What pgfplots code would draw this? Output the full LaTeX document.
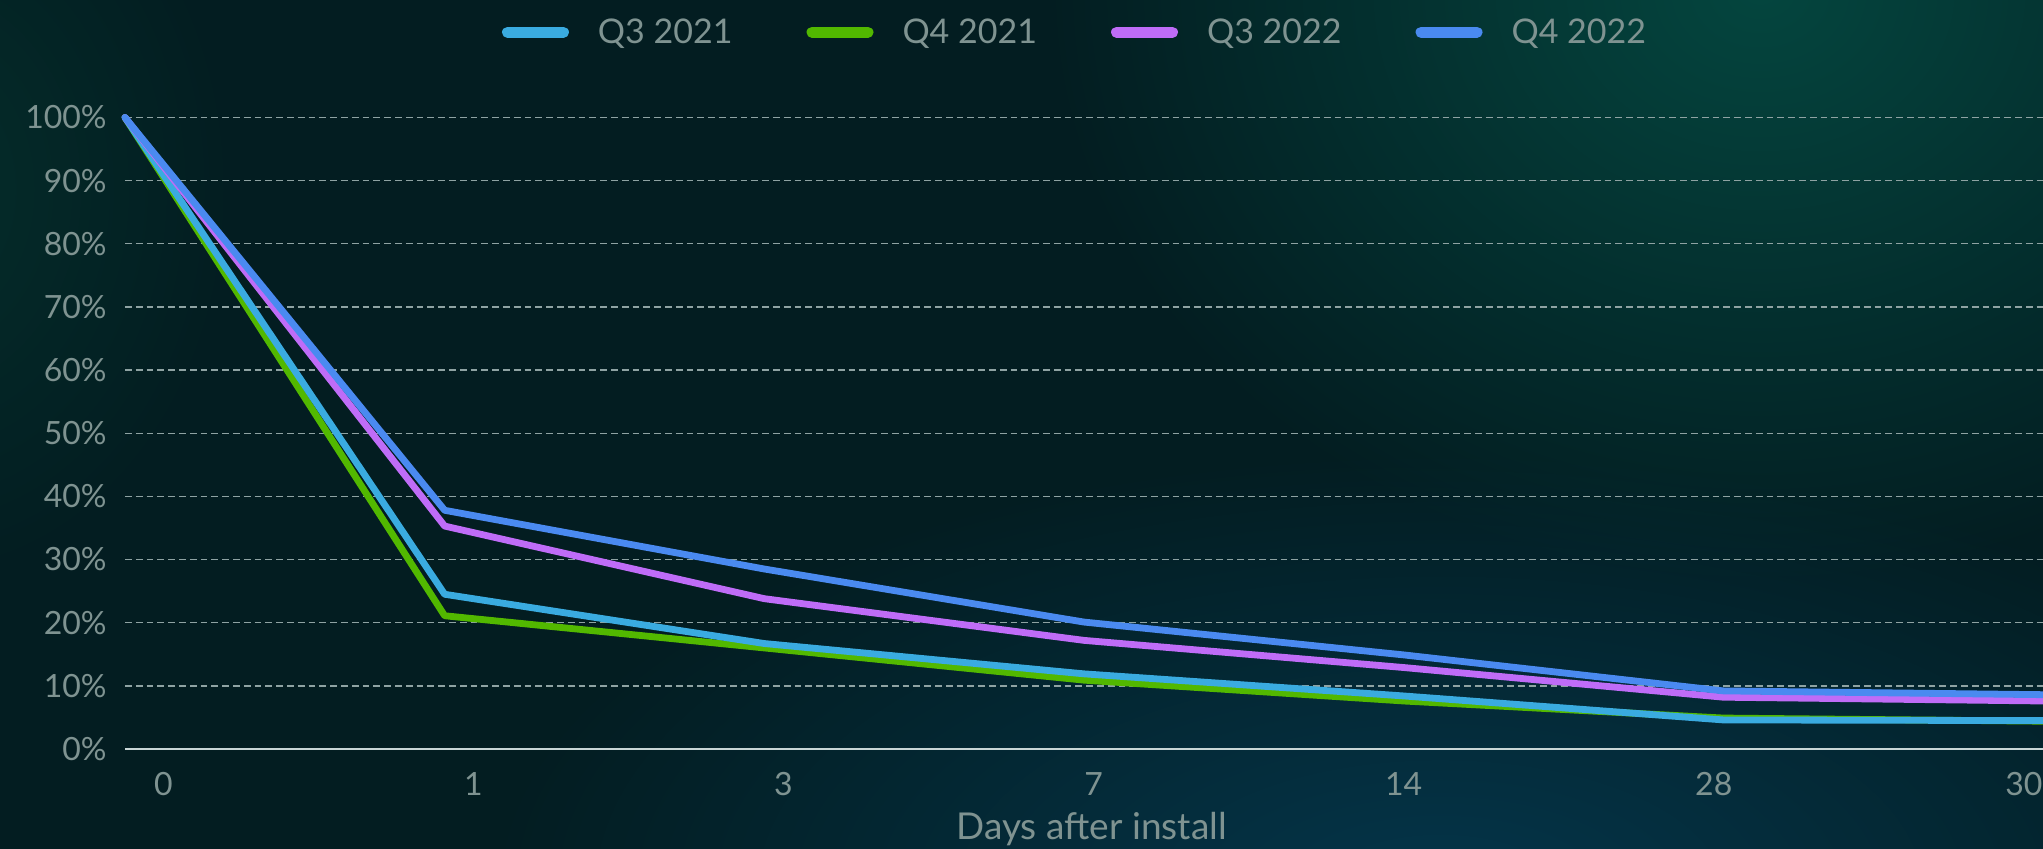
\documentclass[border=0pt]{standalone}
\usepackage{fontspec}
\setmainfont{Lato}
\usepackage{pgfplots}
\pgfplotsset{compat=1.18}
\usetikzlibrary{fadings}

\definecolor{bgbase}{HTML}{031D21}
\definecolor{glowteal}{HTML}{05463F}
\definecolor{glowblue}{HTML}{05354A}
\definecolor{glowleft}{HTML}{052E2B}
\definecolor{labelgray}{HTML}{7F9391}
\definecolor{gridgray}{HTML}{8FA3A3}
\definecolor{baseaxis}{HTML}{C9D6D6}
\definecolor{colA}{HTML}{3AABE0}
\definecolor{colB}{HTML}{52B800}
\definecolor{colC}{HTML}{BF6CF7}
\definecolor{colD}{HTML}{4A8AF0}

\tikzfading[name=softglow, inner color=transparent!0, outer color=transparent!100]

% retention by day index: 0=day 0, 1=day 1, 2=day 3, 3=day 7, 4=day 14, 5=day 28, 6=day 30
\pgfplotstableread{
x y
0 100
1 24.5
2 16.7
3 11.9
4 8.4
5 4.6
6 4.5
}\qthreeA
\pgfplotstableread{
x y
0 100
1 21.1
2 16.0
3 10.9
4 7.6
5 4.9
6 4.4
}\qfourA
\pgfplotstableread{
x y
0 100
1 35.3
2 23.8
3 17.2
4 12.9
5 8.2
6 7.6
}\qthreeB
\pgfplotstableread{
x y
0 100
1 37.8
2 28.5
3 20.1
4 14.9
5 9.2
6 8.6
}\qfourB

\newcommand{\chartfont}{\fontsize{16}{19}\selectfont}
\newcommand{\legendfont}{\fontsize{17}{20}\selectfont}
\newcommand{\titlefont}{\fontsize{18.5}{22}\selectfont}

\begin{document}
\begin{tikzpicture}
% backdrop
\fill[bgbase] (0,0) rectangle (1021.5pt,424.5pt);
\begin{scope}
\clip (0,0) rectangle (1021.5pt,424.5pt);
\fill[glowteal, path fading=softglow] (880pt,430pt) ellipse (360pt and 300pt);
\fill[glowblue, path fading=softglow] (720pt,-20pt) ellipse (480pt and 220pt);
\fill[glowleft, path fading=softglow] (-40pt,330pt) ellipse (160pt and 200pt);
\end{scope}

\begin{axis}[
  at={(62.5pt,50pt)}, anchor=south west,
  scale only axis, width=959pt, height=315.75pt,
  xmin=0, xmax=6, ymin=0, ymax=100,
  clip=false,
  axis line style={draw=none},
  major tick length=0pt,
  xtick={0.12,1.09,2.06,3.03,4.00,4.97,5.94},
  xticklabels={0,1,3,7,14,28,30},
  ytick={10,20,...,100},
  yticklabels={10\%,20\%,30\%,40\%,50\%,60\%,70\%,80\%,90\%,100\%},
  extra y ticks={0},
  extra y tick labels={0\%},
  extra y tick style={grid style={solid, draw=baseaxis, line width=1.25pt}},
  ymajorgrids,
  grid style={draw=gridgray, line width=0.7pt, dash pattern=on 3.4pt off 2pt},
  tick label style={font=\chartfont, text=labelgray},
  yticklabel style={anchor=east, inner sep=0pt, xshift=-9pt},
  xticklabel style={anchor=north, inner sep=0pt, yshift=-11.5pt},
  xlabel={Days after install},
  xlabel style={at={(axis description cs:0.504,0)}, anchor=base, yshift=-45.5pt, font=\titlefont, text=labelgray},
  legend columns=4,
  legend image code/.code={\draw[#1, line width=5.5pt, line cap=round] (0pt,0pt) -- (28pt,0pt);},
  legend style={at={(0.4948,1.135)}, anchor=center, draw=none, fill=none,
    font=\legendfont, text=labelgray,
    /tikz/every odd column/.append style={column sep=14.5pt},
    /tikz/every even column/.append style={column sep=37pt},
    nodes={inner sep=0pt}},
]
\addlegendimage{colA}\addlegendentry{Q3 2021}
\addlegendimage{colB}\addlegendentry{Q4 2021}
\addlegendimage{colC}\addlegendentry{Q3 2022}
\addlegendimage{colD}\addlegendentry{Q4 2022}

\addplot[forget plot, colB, line width=3.4pt, line cap=round, line join=round] table {\qfourA};
\addplot[forget plot, colA, line width=3.4pt, line cap=round, line join=round] table {\qthreeA};
\addplot[forget plot, colC, line width=3.4pt, line cap=round, line join=round] table {\qthreeB};
\addplot[forget plot, colD, line width=3.4pt, line cap=round, line join=round] table {\qfourB};
\end{axis}

\pgfresetboundingbox
\path[use as bounding box] (0,0) rectangle (1021.5pt,424.5pt);
\end{tikzpicture}
\end{document}
